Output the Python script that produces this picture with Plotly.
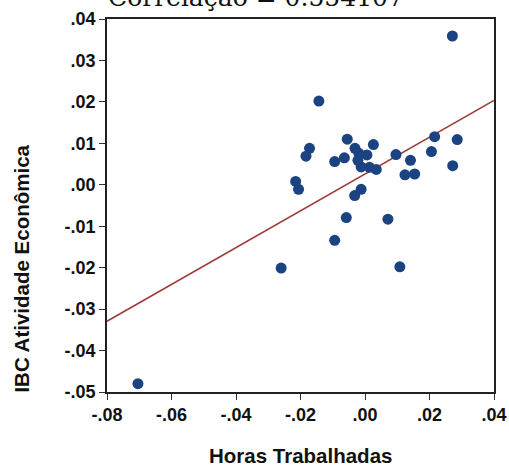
import numpy as np
import plotly.graph_objects as go

# Data (Horas Trabalhadas vs IBC Atividade Econômica)
horas = [0.0271, -0.0143, -0.0055, 0.0026, -0.0172, -0.0183, -0.0031, -0.0019,
         0.0006, -0.0022, -0.0064, -0.0094, -0.0012, 0.0014, 0.0035, 0.0096,
         0.0141, 0.0124, 0.0154, 0.0206, 0.0216, 0.0286, 0.0272, -0.0215,
         -0.0206, -0.0012, -0.0032, -0.0058, 0.0071, -0.0094, -0.0260, 0.0108,
         -0.0704]
ibc = [0.0359, 0.0202, 0.0110, 0.0097, 0.0088, 0.0069, 0.0088, 0.0076,
       0.0072, 0.0059, 0.0065, 0.0056, 0.0043, 0.0042, 0.0037, 0.0073,
       0.0059, 0.0024, 0.0026, 0.0080, 0.0116, 0.0109, 0.0046, 0.0008,
       -0.0011, -0.0011, -0.0026, -0.0079, -0.0083, -0.0134, -0.0201, -0.0198,
       -0.0480]

# Regression line
reg_slope = 0.444
reg_intercept = 0.0026
line_x = [-0.08, 0.04]

title_text = "Correlação = 0.554107"
x_title = "Horas Trabalhadas"
y_title = "IBC Atividade Econômica"

x_ticks = [-0.08, -0.06, -0.04, -0.02, 0.00, 0.02, 0.04]
x_ticklabels = ["-.08", "-.06", "-.04", "-.02", ".00", ".02", ".04"]
y_ticks = [0.04, 0.03, 0.02, 0.01, 0.00, -0.01, -0.02, -0.03, -0.04, -0.05]
y_ticklabels = [".04", ".03", ".02", ".01", ".00", "-.01", "-.02", "-.03", "-.04", "-.05"]

line_y = [reg_intercept + reg_slope * v for v in line_x]

fig = go.Figure()
fig.add_trace(go.Scatter(x=line_x, y=line_y, mode="lines",
                         line=dict(color="#9e3c3c", width=1.6),
                         hoverinfo="skip", showlegend=False))
fig.add_trace(go.Scatter(x=horas, y=ibc, mode="markers",
                         marker=dict(color="#1b4381", size=11, line=dict(width=0)),
                         showlegend=False))

sans = "Liberation Sans, Arial, sans-serif"
tickfont = dict(family=sans, size=18, color="#111111")
titlefont = dict(family=sans, size=20.5, color="#111111")

fig.update_layout(
    width=509, height=468,
    margin=dict(l=107, r=15, t=19, b=76),
    paper_bgcolor="white", plot_bgcolor="white",
    xaxis=dict(range=[-0.08, 0.04], tickvals=x_ticks,
               ticktext=["<b>%s</b>" % t for t in x_ticklabels],
               tickfont=tickfont, ticks="outside", ticklen=6, tickwidth=1.3,
               tickcolor="#333333", showline=True, linecolor="#222222",
               linewidth=1.5, mirror=True, showgrid=False, zeroline=False,
               automargin=False),
    yaxis=dict(range=[-0.05, 0.04], tickvals=y_ticks,
               ticktext=["<b>%s</b>" % t for t in y_ticklabels],
               tickfont=tickfont, ticks="outside", ticklen=6, tickwidth=1.3,
               tickcolor="#333333", showline=True, linecolor="#222222",
               linewidth=1.5, mirror=True, showgrid=False, zeroline=False,
               automargin=False),
)

# axis titles
fig.add_annotation(text="<b>%s</b>" % x_title, xref="paper", yref="paper",
                   x=0.5, y=-0.171, xanchor="center", yanchor="middle",
                   showarrow=False, font=titlefont)
fig.add_annotation(text="<b>%s</b>" % y_title, xref="paper", yref="paper",
                   x=-0.222, y=0.331, xanchor="center", yanchor="middle",
                   textangle=-90, showarrow=False, font=titlefont)

# chart title (partly cut at the top edge, as in the reference)
fig.add_annotation(text=title_text, xref="paper", yref="paper",
                   x=0.386, y=1.0, xanchor="center", yanchor="bottom", yshift=5,
                   showarrow=False,
                   font=dict(family="DejaVu Serif, serif", size=25, color="#111111"))

fig.write_html("out.html")
